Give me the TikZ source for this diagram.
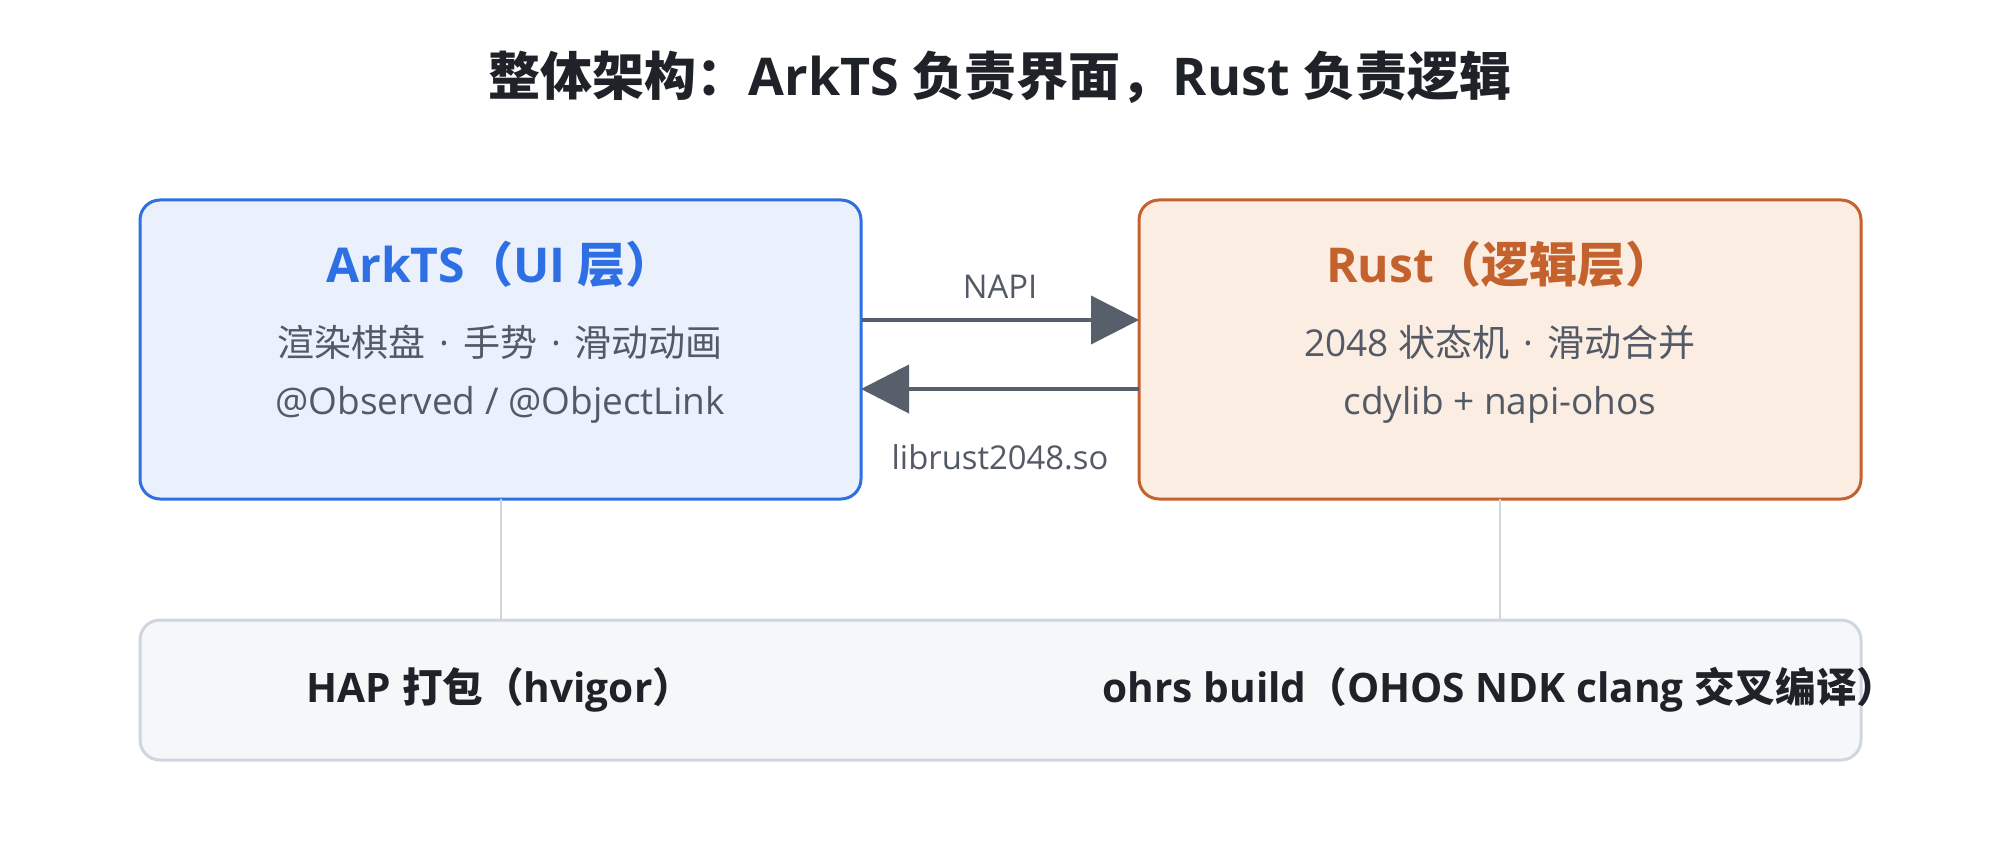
\documentclass[tikz,border=0pt]{standalone}
\usepackage{fontspec}
\setmainfont{Open Sans}
\newfontfamily\cjkfont{Noto Sans CJK SC}
\newcommand\zh[1]{{\cjkfont #1}}
\newcommand\midsep{\hspace{0.38em}·\hspace{0.38em}}
\usetikzlibrary{arrows.meta,calc}
\definecolor{tblue}{HTML}{2E6FE3}
\definecolor{fblue}{HTML}{EAF1FD}
\definecolor{torange}{HTML}{C4622D}
\definecolor{forange}{HTML}{FBEDE2}
\definecolor{tgray}{HTML}{535A66}
\definecolor{agray}{HTML}{575F6A}
\definecolor{fbottom}{HTML}{F6F7F9}
\definecolor{lbottom}{HTML}{D0D6DD}
\definecolor{ttitle}{HTML}{1F2329}
\tikzset{
  panel/.style={draw, line width=1.5pt, rounded corners=10pt, inner sep=0pt, outer sep=0pt},
  bluebox/.style={panel, draw=tblue, fill=fblue, minimum width=360.5pt, minimum height=149.5pt},
  orangebox/.style={panel, draw=torange, fill=forange, minimum width=361pt, minimum height=149.5pt},
  basebox/.style={panel, draw=lbottom, fill=fbottom, minimum width=860.5pt, minimum height=70pt},
  boxtitle/.style={font=\bfseries\fontsize{24pt}{28pt}\selectfont, inner sep=0pt},
  subtext/.style={font=\fontsize{18.5pt}{22pt}\selectfont, text=tgray, inner sep=0pt},
  smalllabel/.style={font=\fontsize{16.4pt}{19pt}\selectfont, text=tgray, inner sep=0pt},
  basetext/.style={font=\bfseries\fontsize{20.3pt}{24pt}\selectfont, text=ttitle, inner sep=0pt},
  flow/.style={draw=agray, line width=2pt, -{Triangle[length=24pt,width=24pt]}},
  link/.style={draw=lbottom, line width=1pt}
}
\begin{document}
\begin{tikzpicture}[x=0.5pt,y=-0.5pt]
\useasboundingbox (0,0) rectangle (2000,860);
\node[font=\bfseries\fontsize{26pt}{30pt}\selectfont, text=ttitle, inner sep=0pt] (title) at (1000,77) {\zh{整体架构：}ArkTS \zh{负责界面，}Rust \zh{负责逻辑}};

\node[bluebox] (L) at (500.5,349.5) {};
\node[orangebox] (R) at (1500,349.5) {};
\node[basebox] (B) at (1000.5,690) {};

\node[boxtitle, text=tblue] (Lt) at (500,264) {ArkTS\zh{（}UI \zh{层）}};
\node[subtext] (L1) at (500,342) {\zh{渲染棋盘}\midsep\zh{手势}\midsep\zh{滑动动画}};
\node[subtext] (L2) at (500,405) {@Observed / @ObjectLink};

\node[boxtitle, text=torange] (Rt) at (1500,264) {Rust\zh{（逻辑层）}};
\node[subtext] (R1) at (1500,342) {2048 \zh{状态机}\midsep\zh{滑动合并}};
\node[subtext] (R2) at (1500,405) {cdylib + napi-ohos};

\coordinate (ya) at (0,320);
\coordinate (yb) at (0,389);
\draw[flow] (L.east |- ya) -- (R.west |- ya);
\draw[flow] (R.west |- yb) -- (L.east |- yb);
\node[smalllabel] (napi) at (1000,287) {NAPI};
\node[smalllabel] (so) at (1000,457) {librust2048.so};

\draw[link] (L.south) -- (L.south |- B.north);
\draw[link] (R.south) -- (R.south |- B.north);

\node[basetext] (b1) at (500,690) {HAP \zh{打包（}hvigor\zh{）}};
\node[basetext] (b2) at (1500,690) {ohrs build\zh{（}OHOS NDK clang \zh{交叉编译）}};
\end{tikzpicture}
\end{document}
